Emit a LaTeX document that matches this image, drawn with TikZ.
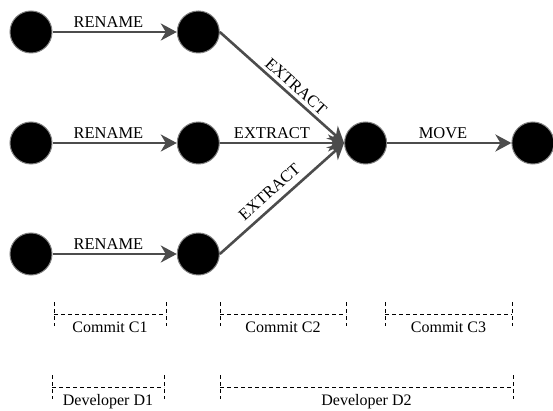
\documentclass[tikz,border=0pt]{standalone}
\usepackage{fontspec}
\setmainfont{Liberation Serif}
\newfontfamily\timesfont{Liberation Serif}
\usetikzlibrary{positioning, arrows.meta}
\tikzset{
->, % makes the edges directed
>={Stealth[length=16pt, width=17pt, inset=5pt]}, % wide arrow heads
node distance=111pt and 167.3pt, % rows, then columns
every node/.style={font=\timesfont\fontsize{16.5}{19}\selectfont}, % text of the edge labels
version/.style={circle, fill=black, draw=gray, line width=1pt, minimum size=42pt, inner sep=0pt}, % one version of the code
change/.style={line width=2.6pt, draw=black!70}, % a refactoring step
span/.style={-, line width=0.9pt, dash pattern=on 4pt off 3pt}, % dashed brackets
tag/.style={font=\timesfont\fontsize{16}{18}\selectfont, below, yshift=-4pt}, % text under a bracket
}
\begin{document}
\begin{tikzpicture}[x=1pt, y=1pt, on grid]
                \useasboundingbox (0,0) rectangle (553,-411);
                \node[version] (a1) at (31,-32) {};
                \node[version, right=of a1] (a2) {};
                \node[version, below=of a1] (b1) {};
                \node[version, right=of b1] (b2) {};
                \node[version, right=of b2] (b3) {};
                \node[version, right=of b3] (b4) {};
                \node[version, below=of b1] (c1) {};
                \node[version, right=of c1] (c2) {};
                \path
                    (a1) edge[change] node[above, pos=0.45]{RENAME} (a2)
                    (b1) edge[change] node[above, pos=0.45]{RENAME} (b2)
                    (c1) edge[change] node[above, pos=0.45]{RENAME} (c2)
                    (a2.east) edge[change] node[above, sloped, pos=0.56]{EXTRACT} (b3.west)
                    (b2) edge[change] node[above, pos=0.42]{EXTRACT} (b3)
                    (c2.east) edge[change] node[above=3pt, sloped, pos=0.47]{EXTRACT} (b3.west)
                    (b3) edge[change] node[above, pos=0.45]{MOVE} (b4)
                    ;
                % commits
                \draw[span] (54,-302) -- (54,-326) (54,-314) -- (166,-314) (166,-302) -- (166,-326);
                \node[tag] (cm1) at (110,-314) {Commit C1};
                \draw[span] (220,-302) -- (220,-326) (220,-314) -- (346,-314) (346,-302) -- (346,-326);
                \node[tag] (cm2) at (283,-314) {Commit C2};
                \draw[span] (385,-302) -- (385,-326) (385,-314) -- (512,-314) (512,-302) -- (512,-326);
                \node[tag] (cm3) at (448.5,-314) {Commit C3};
                % developers
                \draw[span] (52,-375) -- (52,-399) (52,-387) -- (164,-387) (164,-375) -- (164,-399);
                \node[tag] (dev1) at (108,-387) {Developer D1};
                \draw[span] (220,-375) -- (220,-399) (220,-387) -- (513,-387) (513,-375) -- (513,-399);
                \node[tag] (dev2) at (366.5,-387) {Developer D2};
                \end{tikzpicture}
\end{document}
